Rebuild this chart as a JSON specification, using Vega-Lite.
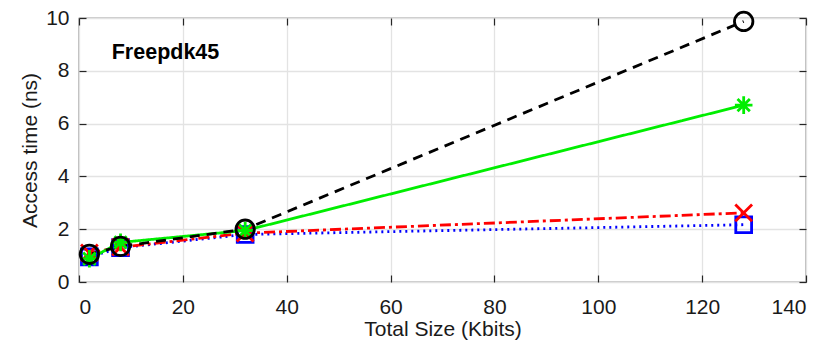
{
  "$schema": "https://vega.github.io/schema/vega-lite/v6.json",
  "autosize": {"type": "none"},
  "width": 727,
  "height": 264,
  "padding": {"left": 79, "top": 18, "right": 25, "bottom": 62},
  "background": "white",
  "config": {
    "font": "Liberation Sans",
    "view": {"stroke": "#262626", "strokeWidth": 1.2},
    "axis": {
      "labelFont": "Liberation Sans",
      "titleFont": "Liberation Sans",
      "labelFontSize": 21,
      "titleFontSize": 21,
      "titleFontWeight": "normal",
      "labelColor": "#1a1a1a",
      "titleColor": "#1a1a1a",
      "gridColor": "#e3e3e3",
      "gridWidth": 1.3,
      "domain": false,
      "tickColor": "#262626",
      "tickWidth": 1.2,
      "tickSize": 7
    }
  },
  "datasets": {
    "sram": [
      {"size": 2, "time": 0.95, "tool": "blue"},
      {"size": 8, "time": 1.3, "tool": "blue"},
      {"size": 32, "time": 1.8, "tool": "blue"},
      {"size": 128, "time": 2.17, "tool": "blue"},
      {"size": 2, "time": 1.1, "tool": "red"},
      {"size": 8, "time": 1.32, "tool": "red"},
      {"size": 32, "time": 1.85, "tool": "red"},
      {"size": 128, "time": 2.62, "tool": "red"},
      {"size": 2, "time": 0.88, "tool": "green"},
      {"size": 8, "time": 1.5, "tool": "green"},
      {"size": 32, "time": 1.95, "tool": "green"},
      {"size": 128, "time": 6.7, "tool": "green"},
      {"size": 2, "time": 1.05, "tool": "black"},
      {"size": 8, "time": 1.35, "tool": "black"},
      {"size": 32, "time": 2.0, "tool": "black"},
      {"size": 128, "time": 9.87, "tool": "black"}
    ],
    "label": [{"size": 6.3, "time": 8.69, "text": "Freepdk45"}]
  },
  "resolve": {"axis": {"x": "independent", "y": "independent"}},
  "layer": [
    {
      "data": {"name": "label"},
      "mark": {"type": "text", "font": "Liberation Sans", "fontWeight": "bold", "fontSize": 21.5, "align": "left", "baseline": "middle", "color": "#000"},
      "encoding": {
        "x": {"field": "size", "type": "quantitative", "scale": {"domain": [0, 140], "nice": false},
              "axis": {"orient": "bottom", "values": [0, 20, 40, 60, 80, 100, 120, 140], "grid": true, "ticks": false, "labels": false, "title": null}},
        "y": {"field": "time", "type": "quantitative", "scale": {"domain": [0, 10], "nice": false},
              "axis": {"orient": "left", "values": [0, 2, 4, 6, 8, 10], "grid": true, "ticks": false, "labels": false, "title": null}},
        "text": {"field": "text"}
      }
    },
    {
      "data": {"name": "sram"},
      "mark": {"type": "line", "strokeWidth": 2.8},
      "encoding": {
        "x": {"field": "size", "type": "quantitative", "scale": {"domain": [0, 140], "nice": false},
              "axis": {"orient": "bottom", "values": [0, 20, 40, 60, 80, 100, 120, 140], "grid": false, "offset": -7, "labelPadding": 14, "title": "Total Size (Kbits)", "titlePadding": 1}},
        "y": {"field": "time", "type": "quantitative", "scale": {"domain": [0, 10], "nice": false},
              "axis": {"orient": "left", "values": [0, 2, 4, 6, 8, 10], "grid": false, "offset": -7, "labelPadding": 10, "title": "Access time (ns)", "titlePadding": 5}},
        "color": {"field": "tool", "type": "nominal", "legend": null,
                  "scale": {"domain": ["blue", "red", "green", "black"], "range": ["#0000ff", "#ff0000", "#00ee00", "#000000"]}},
        "strokeDash": {"field": "tool", "type": "nominal", "legend": null,
                  "scale": {"domain": ["blue", "red", "green", "black"], "range": [[2, 4], [11, 4, 3, 4], [1, 0], [10, 7]]}},
        "order": {"field": "size", "type": "quantitative"}
      }
    },
    {
      "data": {"name": "sram"},
      "mark": {"type": "point", "filled": false, "strokeWidth": 2.8, "opacity": 1},
      "encoding": {
        "x": {"field": "size", "type": "quantitative", "scale": {"domain": [0, 140], "nice": false},
              "axis": {"orient": "top", "values": [0, 20, 40, 60, 80, 100, 120, 140], "offset": -7, "labels": false, "title": null, "grid": false}},
        "y": {"field": "time", "type": "quantitative", "scale": {"domain": [0, 10], "nice": false},
              "axis": {"orient": "right", "values": [0, 2, 4, 6, 8, 10], "offset": -7, "labels": false, "title": null, "grid": false}},
        "color": {"field": "tool", "type": "nominal", "legend": null,
                  "scale": {"domain": ["blue", "red", "green", "black"], "range": ["#0000ff", "#ff0000", "#00ee00", "#000000"]}},
        "shape": {"field": "tool", "type": "nominal", "legend": null,
                  "scale": {"domain": ["blue", "red", "green", "black"],
                            "range": ["square", "M-1,-1L1,1M-1,1L1,-1", "M0,-1L0,1M-1,0L1,0M-0.7,-0.7L0.7,0.7M-0.7,0.7L0.7,-0.7", "circle"]}},
        "size": {"field": "tool", "type": "nominal", "legend": null,
                 "scale": {"domain": ["blue", "red", "green", "black"], "range": [250, 340, 440, 280]}}
      }
    }
  ]
}
